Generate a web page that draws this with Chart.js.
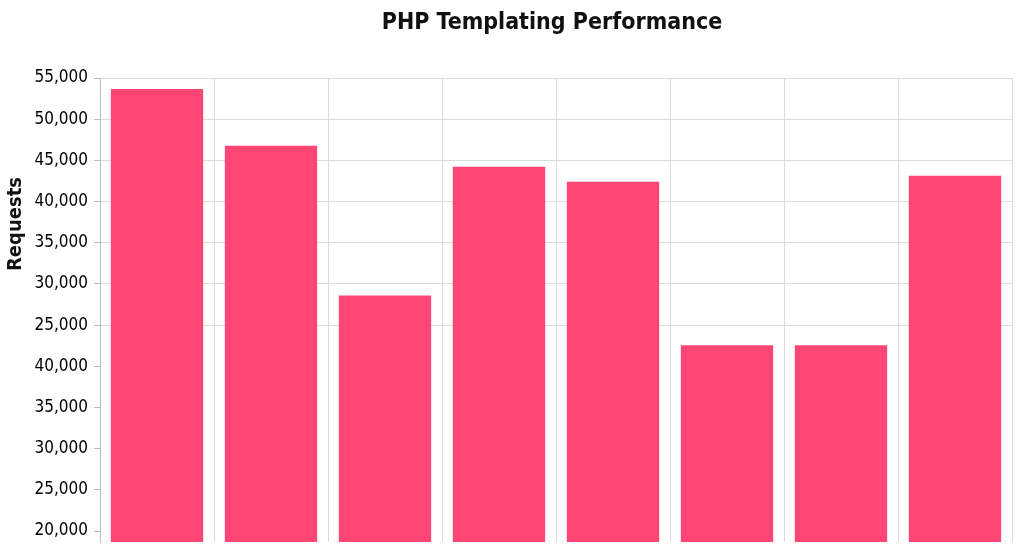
<!DOCTYPE html>
<html>
<head>
<meta charset="utf-8">
<script src="https://cdn.jsdelivr.net/npm/chart.js@4/dist/chart.umd.min.js"></script>
<style>
  html, body { margin: 0; padding: 0; background: #fff; overflow: hidden; }
  #wrap { width: 1016px; height: 544px; position: relative; }
</style>
</head>
<body>
<div id="wrap"><canvas id="myChart"></canvas></div>
<script>
// data -------------------------------------------------------------------
const chartTitle = 'PHP Templating Performance';
const axisTitle = 'Requests';
const categories = ['1', '2', '3', '4', '5', '6', '7', '8'];
// bar heights, in the units of the upper part of the axis
const requests = [53670, 46770, 28610, 44230, 42410, 22550, 22550, 43140];
// tick positions and the labels printed next to them (the lower half repeats)
const tickValues = [0, 5000, 10000, 15000, 20000, 25000, 30000, 35000, 40000, 45000, 50000, 55000];
const tickLabels = ['20,000', '25,000', '30,000', '35,000', '40,000', '25,000', '30,000', '35,000', '40,000', '45,000', '50,000', '55,000'];
const axisMin = -1330;

const handFont = "'DejaVu Sans Condensed', 'DejaVu Sans', sans-serif";

// title + axis title drawn by hand so they sit where the original has them
const titlesPlugin = {
  id: 'titles',
  afterDraw(chart) {
    const ctx = chart.ctx;
    const area = chart.chartArea;
    ctx.save();
    ctx.fillStyle = '#111';
    ctx.textAlign = 'center';
    ctx.textBaseline = 'middle';
    ctx.font = 'bold 23px ' + handFont;
    ctx.fillText(chartTitle, 552, 23);
    ctx.translate(16, 224);
    ctx.rotate(-Math.PI / 2);
    ctx.font = 'bold 20px ' + handFont;
    ctx.fillText(axisTitle, 0, 0);
    ctx.restore();
  }
};

const ctx = document.getElementById('myChart').getContext('2d');
const myChart = new Chart(ctx, {
  type: 'bar',
  data: {
    labels: categories,
    datasets: [{
      label: axisTitle,
      data: requests,
      base: axisMin,
      backgroundColor: '#FF4674',
      borderWidth: 0,
      barPercentage: 1.0,
      categoryPercentage: 0.81
    }]
  },
  options: {
    responsive: true,
    maintainAspectRatio: false,
    animation: false,
    layout: { padding: { top: 78, right: 4, bottom: 2, left: 0 } },
    plugins: {
      legend: { display: false },
      title: { display: false },
      tooltip: { enabled: false }
    },
    scales: {
      x: {
        afterFit: scale => { scale.height = 0; scale.paddingBottom = 0; },
        grid: { color: '#dcdcdc', offset: true, drawTicks: false },
        border: { display: false },
        ticks: { display: false }
      },
      y: {
        min: axisMin,
        max: 55000,
        afterBuildTicks: scale => {
          scale.ticks = tickValues.map(v => ({ value: v }));
        },
        afterFit: scale => {
          scale.width = 100;
          scale.paddingTop = 0;
          scale.paddingBottom = 0;
        },
        grid: {
          color: c => (c.tick && c.tick.value >= 25000 ? '#dcdcdc' : 'rgba(0,0,0,0)'),
          tickColor: '#bbb',
          tickLength: 6
        },
        border: { color: '#bbb' },
        ticks: {
          padding: 6,
          color: '#000',
          font: { family: handFont, size: 17 },
          callback: value => tickLabels[tickValues.indexOf(value)]
        }
      }
    }
  },
  plugins: [titlesPlugin]
});
</script>
</body>
</html>
